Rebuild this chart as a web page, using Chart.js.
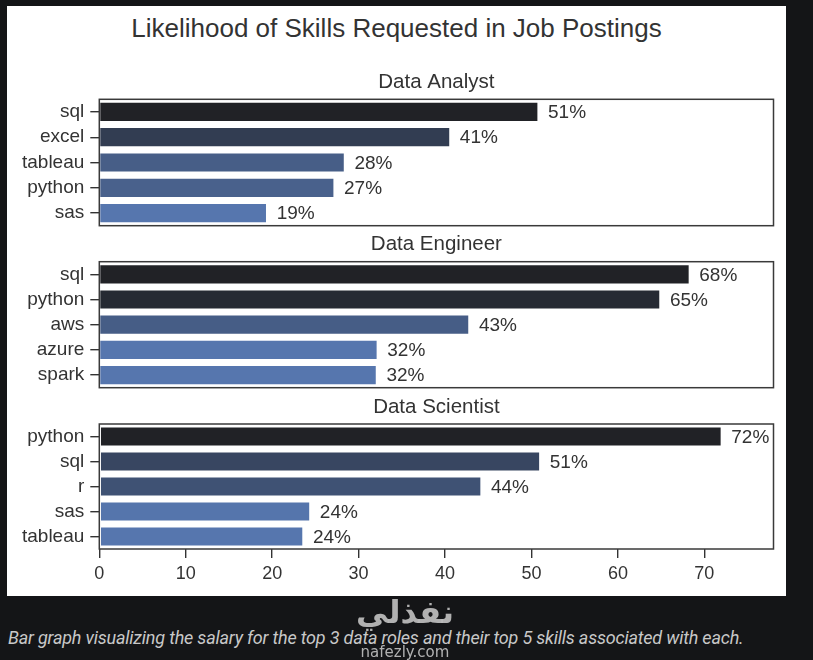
<!DOCTYPE html>
<html>
<head>
<meta charset="utf-8">
<script src="https://cdn.jsdelivr.net/npm/chart.js@4.4.1/dist/chart.umd.min.js"></script>
<style>
  body { margin: 0; width: 813px; height: 660px; background: #141517; position: relative; overflow: hidden; font-family: "Liberation Sans", Arial, sans-serif; }
  #sheet { position: absolute; left: 7px; top: 6px; width: 779px; height: 590px; background: #fff; }
  #title { position: absolute; left: 0; width: 779px; top: 7px; text-align: center; font-size: 26px; color: #333; }
  .panel { position: absolute; left: 0; width: 779px; }
  #caption { position: absolute; left: 8px; top: 627px; font-family: Roboto, sans-serif; font-style: italic; font-size: 18px; letter-spacing: -0.2px; color: #c8c8c8; white-space: nowrap; }
  #wm1 { position: absolute; left: 345px; top: 593px; width: 120px; text-align: center; font-family: "DejaVu Sans", sans-serif; font-weight: bold; font-size: 32px; color: rgba(205,205,205,0.85); }
  #wm2 { position: absolute; left: 345px; top: 643px; width: 120px; text-align: center; font-family: "DejaVu Sans", sans-serif; font-size: 15px; color: rgba(205,205,205,0.85); }
</style>
</head>
<body>
<div id="sheet">
  <div id="title">Likelihood of Skills Requested in Job Postings</div>
  <div class="panel" style="top:50px;height:172px"><canvas id="c1"></canvas></div>
  <div class="panel" style="top:214px;height:170px"><canvas id="c2"></canvas></div>
  <div class="panel" style="top:376px;height:214px"><canvas id="c3"></canvas></div>
</div>
<div id="caption">Bar graph visualizing the salary for the top 3 data roles and their top 5 skills associated with each.</div>
<div id="wm1">نفذلي</div>
<div id="wm2">nafezly.com</div>

<script>
Chart.defaults.font.family = '"Liberation Sans", Arial, sans-serif';
Chart.defaults.color = '#333';

// share of postings per skill (%)
const analystSkills = ['sql', 'excel', 'tableau', 'python', 'sas'];
const analystPct = [50.8, 40.6, 28.4, 27.2, 19.4];
const engineerSkills = ['sql', 'python', 'aws', 'azure', 'spark'];
const engineerPct = [68.3, 64.9, 42.8, 32.2, 32.1];
const scientistSkills = ['python', 'sql', 'r', 'sas', 'tableau'];
const scientistPct = [72.0, 51.0, 44.2, 24.4, 23.6];
const xTicks = [0, 10, 20, 30, 40, 50, 60, 70];

const DARK = [33, 34, 38], BLUE = [86, 118, 174];

// dark:b_r style palette, normalised inside each panel
function shade(vals) {
  const hi = Math.max(...vals), lo = Math.min(...vals);
  return vals.map(v => {
    const t = (hi - v) / (hi - lo);
    const c = DARK.map((d, i) => Math.round(d + t * (BLUE[i] - d)));
    return 'rgb(' + c.join(',') + ')';
  });
}

const boxAndLabels = {
  id: 'boxAndLabels',
  afterDatasetsDraw(chart) {
    const { ctx, chartArea: a, scales } = chart;
    const vals = chart.data.datasets[0].data;
    ctx.save();
    ctx.font = '19px "Liberation Sans", Arial, sans-serif';
    ctx.fillStyle = '#333';
    ctx.textAlign = 'left';
    ctx.textBaseline = 'middle';
    chart.getDatasetMeta(0).data.forEach((bar, i) => {
      ctx.fillText(Math.round(vals[i]) + '%', scales.x.getPixelForValue(vals[i] + 1) + 1, bar.y + 1);
    });
    ctx.strokeStyle = '#3a3a3a';
    ctx.lineWidth = 1.5;
    ctx.strokeRect(a.left, a.top, a.right - a.left, a.bottom - a.top);
    ctx.font = '20.5px "Liberation Sans", Arial, sans-serif';
    ctx.textAlign = 'center';
    ctx.fillText(chart.options.plugins.panelTitle, (a.left + a.right) / 2, a.top - 17);
    ctx.restore();
  }
};

function makePanel(id, title, skills, pct, plotTop, plotBottom, canvasH, showX) {
  new Chart(document.getElementById(id), {
    type: 'bar',
    data: {
      labels: skills,
      datasets: [{
        data: pct,
        backgroundColor: shade(pct),
        borderColor: 'rgba(255,255,255,0.55)',
        borderWidth: 1,
        borderSkipped: false,
        barPercentage: 0.8,
        categoryPercentage: 1
      }]
    },
    options: {
      indexAxis: 'y',
      responsive: true,
      maintainAspectRatio: false,
      animation: false,
      layout: { padding: { top: plotTop, right: 12.5, bottom: canvasH - plotBottom - (showX ? 46 : 0), left: 0 } },
      plugins: { legend: { display: false }, tooltip: { enabled: false }, panelTitle: title },
      scales: {
        x: {
          display: showX,
          min: 0, max: 78,
          afterBuildTicks: s => { s.ticks = xTicks.map(v => ({ value: v })); },
          afterFit: s => { s.height = showX ? 46 : 0; s.paddingLeft = 0; s.paddingRight = 0; },
          ticks: { font: { size: 18 }, color: '#333', padding: 5 },
          grid: { drawOnChartArea: false, drawTicks: true, tickLength: 9, color: '#333', lineWidth: 1.4 },
          border: { display: false }
        },
        y: {
          afterFit: s => { s.width = 92.3; s.paddingTop = 0; s.paddingBottom = 0; },
          ticks: { font: { size: 19 }, color: '#333', padding: 6, autoSkip: false },
          grid: { offset: false, drawOnChartArea: false, drawTicks: true, tickLength: 9, color: '#333', lineWidth: 1.4 },
          border: { display: false }
        }
      }
    },
    plugins: [boxAndLabels]
  });
}

makePanel('c1', 'Data Analyst', analystSkills, analystPct, 43.3, 169.7, 172, false);
makePanel('c2', 'Data Engineer', engineerSkills, engineerPct, 41.7, 167.7, 170, false);
makePanel('c3', 'Data Scientist', scientistSkills, scientistPct, 42, 167, 214, true);
</script>
</body>
</html>
